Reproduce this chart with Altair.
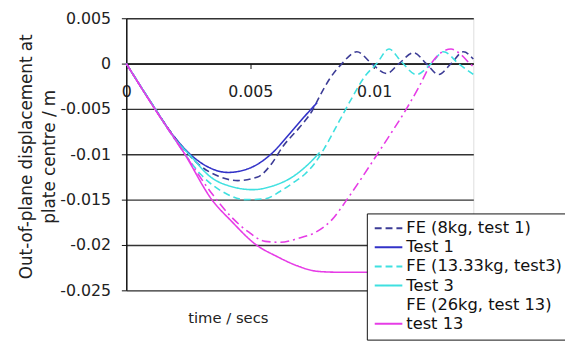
import altair as alt
import pandas as pd

series_names = ["FE (8kg, test 1)", "Test 1", "FE (13.33kg, test3)", "Test 3",
                "FE (26kg, test 13)", "test 13"]
# the FE (26kg) legend symbol is not visible in the reference: its main-layer colour is
# transparent and the curve itself is drawn by a separate layer
series_colors = ["#3c3c96", "#3232c8", "#3fe0e0", "#3fe0e0", "rgba(0,0,0,0)", "#e63ce6"]
fe26_color = "#e63ce6"
series_dash = [[7, 4], [1, 0], [7, 4], [1, 0], [9, 4, 2, 4], [1, 0]]

fe8_t = [0, 0.001, 0.002, 0.003, 0.0037, 0.0045, 0.0053, 0.0059, 0.0063, 0.0070,
         0.0075, 0.0078, 0.0082, 0.0087, 0.0093, 0.0099, 0.0105, 0.0110, 0.0116,
         0.0121, 0.0126, 0.0131, 0.0136, 0.0140]
fe8_v = [0, -0.0043, -0.0083, -0.0113, -0.0124, -0.0129, -0.0125, -0.0109, -0.0092,
         -0.0070, -0.0052, -0.0036, -0.0017, 0.0, 0.0013, 0.0, -0.0011, 0.0, 0.0012,
         0.0, -0.0012, 0.0, 0.0013, 0.0005]

t1_t = [0, 0.001, 0.002, 0.00258, 0.0033, 0.0041, 0.0050, 0.00583, 0.0066, 0.0072, 0.0077]
t1_v = [0, -0.0043, -0.0083, -0.0100, -0.0114, -0.0120, -0.0115, -0.0100, -0.0077,
        -0.0058, -0.0043]

fe13_t = [0, 0.001, 0.002, 0.003, 0.0040, 0.0048, 0.0056, 0.0062, 0.0067, 0.0072,
          0.0076, 0.0080, 0.0086, 0.0091, 0.0096, 0.0101, 0.0106, 0.0111, 0.0117,
          0.0123, 0.0128, 0.0134, 0.0140]
fe13_v = [0, -0.0043, -0.0085, -0.0122, -0.0143, -0.0150, -0.0149, -0.0141, -0.0132,
          -0.0122, -0.0110, -0.0093, -0.0063, -0.0038, -0.0015, 0.0, 0.0016, 0.0002,
          -0.0012, 0.0, 0.0013, 0.0, -0.0012]

t3_t = [0, 0.001, 0.002, 0.0026, 0.0034, 0.0043, 0.0051, 0.0059, 0.0067, 0.0073, 0.0078]
t3_v = [0, -0.0043, -0.0084, -0.0102, -0.0125, -0.0136, -0.0139, -0.0135, -0.0125,
        -0.0112, -0.0098]

fe26_t = [0, 0.00115, 0.00234, 0.0035, 0.0042, 0.0049, 0.0056, 0.0062, 0.0069, 0.0077,
          0.0083, 0.0089, 0.0095, 0.0101, 0.0107, 0.0113, 0.0118, 0.0123, 0.0127,
          0.0131, 0.0135, 0.0139, 0.0140]
fe26_v = [0, -0.0050, -0.0099, -0.0145, -0.0168, -0.0185, -0.0196, -0.0197, -0.0193,
          -0.0185, -0.0172, -0.0150, -0.0126, -0.0101, -0.0076, -0.0050, -0.0026, 0.0,
          0.0012, 0.0016, 0.0010, -0.0001, -0.0003]

t13_t = [0, 0.00115, 0.00234, 0.00345, 0.00425, 0.0052, 0.0061, 0.0069, 0.0077,
         0.0085, 0.0095, 0.0100]
t13_v = [0, -0.0050, -0.0099, -0.0150, -0.0174, -0.0199, -0.0213, -0.0223, -0.0229,
         -0.0230, -0.0230, -0.0230]

x_ticks = [0, 0.005, 0.01]
y_ticks = [0.005, 0, -0.005, -0.01, -0.015, -0.02, -0.025]
y_title = ["Out-of-plane displacement at", "plate centre / m"]
x_title = "time / secs"

series_data = [(fe8_t, fe8_v), (t1_t, t1_v), (fe13_t, fe13_v), (t3_t, t3_v),
               (fe26_t, fe26_v), (t13_t, t13_v)]
rows = []
for name, (ts, vs) in zip(series_names, series_data):
    for t, v in zip(ts, vs):
        rows.append({"series": name, "t": t, "v": v})
df = pd.DataFrame(rows)

FONT = "DejaVu Sans"

x_enc = alt.X("t:Q", scale=alt.Scale(domain=[0, 0.014], nice=False, zero=False),
              axis=alt.Axis(values=x_ticks, labelExpr="'' + datum.value", grid=False,
                            offset=-230, domainColor="#111", domainWidth=1.5,
                            tickColor="#111", tickSize=5, labelPadding=15,
                            labelFont=FONT, labelFontSize=16, labelColor="#222",
                            labelFlush=False,
                            title=x_title, titleFont=FONT, titleFontSize=15,
                            titleFontWeight="normal", titleColor="#222",
                            titleX=103, titleY=258, titleAlign="center",
                            titleBaseline="middle", titleAngle=0))
y_enc = alt.Y("v:Q", scale=alt.Scale(domain=[-0.025, 0.005], nice=False, zero=False),
              axis=alt.Axis(values=y_ticks, labelExpr="'' + datum.value", grid=True,
                            gridColor="#333", gridWidth=1.4, domainColor="#111",
                            domainWidth=1.5, tickColor="#111", tickSize=5,
                            labelPadding=11, labelFont=FONT, labelFontSize=16,
                            labelColor="#222", labelFlush=False,
                            title=y_title, titleFont=FONT, titleFontSize=17,
                            titleFontWeight="normal", titleColor="#222",
                            titleAngle=270, titleX=-101, titleY=140,
                            titleAlign="center", titleBaseline="middle",
                            titleLineHeight=23))

legend = alt.Legend(orient="none", legendX=244, legendY=198, padding=7,
                    strokeColor="#111", fillColor="white", labelFont=FONT,
                    labelFontSize=16.5, labelColor="#111", labelLimit=400,
                    symbolType="stroke", symbolSize=784, symbolStrokeWidth=2,
                    clipHeight=16, rowPadding=2.4, labelOffset=3)

main = alt.Chart(df).mark_line(interpolate="monotone", strokeWidth=1.6).encode(
    x=x_enc,
    y=y_enc,
    color=alt.Color("series:N", scale=alt.Scale(domain=series_names, range=series_colors),
                    legend=legend, title=None),
    strokeDash=alt.StrokeDash("series:N",
                              scale=alt.Scale(domain=series_names, range=series_dash),
                              legend=legend, title=None),
)

fe26_layer = alt.Chart(df).transform_filter(
    alt.datum.series == series_names[4]
).mark_line(interpolate="monotone", strokeWidth=1.6, color=fe26_color,
            strokeDash=series_dash[4]).encode(x="t:Q", y="v:Q")

chart = alt.layer(main, fe26_layer).properties(
    width=352, height=276,
    autosize=alt.AutoSizeParams(type="none"),
    padding={"left": 120, "top": 8, "right": 93, "bottom": 49},
).configure_view(stroke="#999", strokeWidth=1.2).configure(background="white")

chart.save("out.html", embed_options={"renderer": "svg", "actions": False})
